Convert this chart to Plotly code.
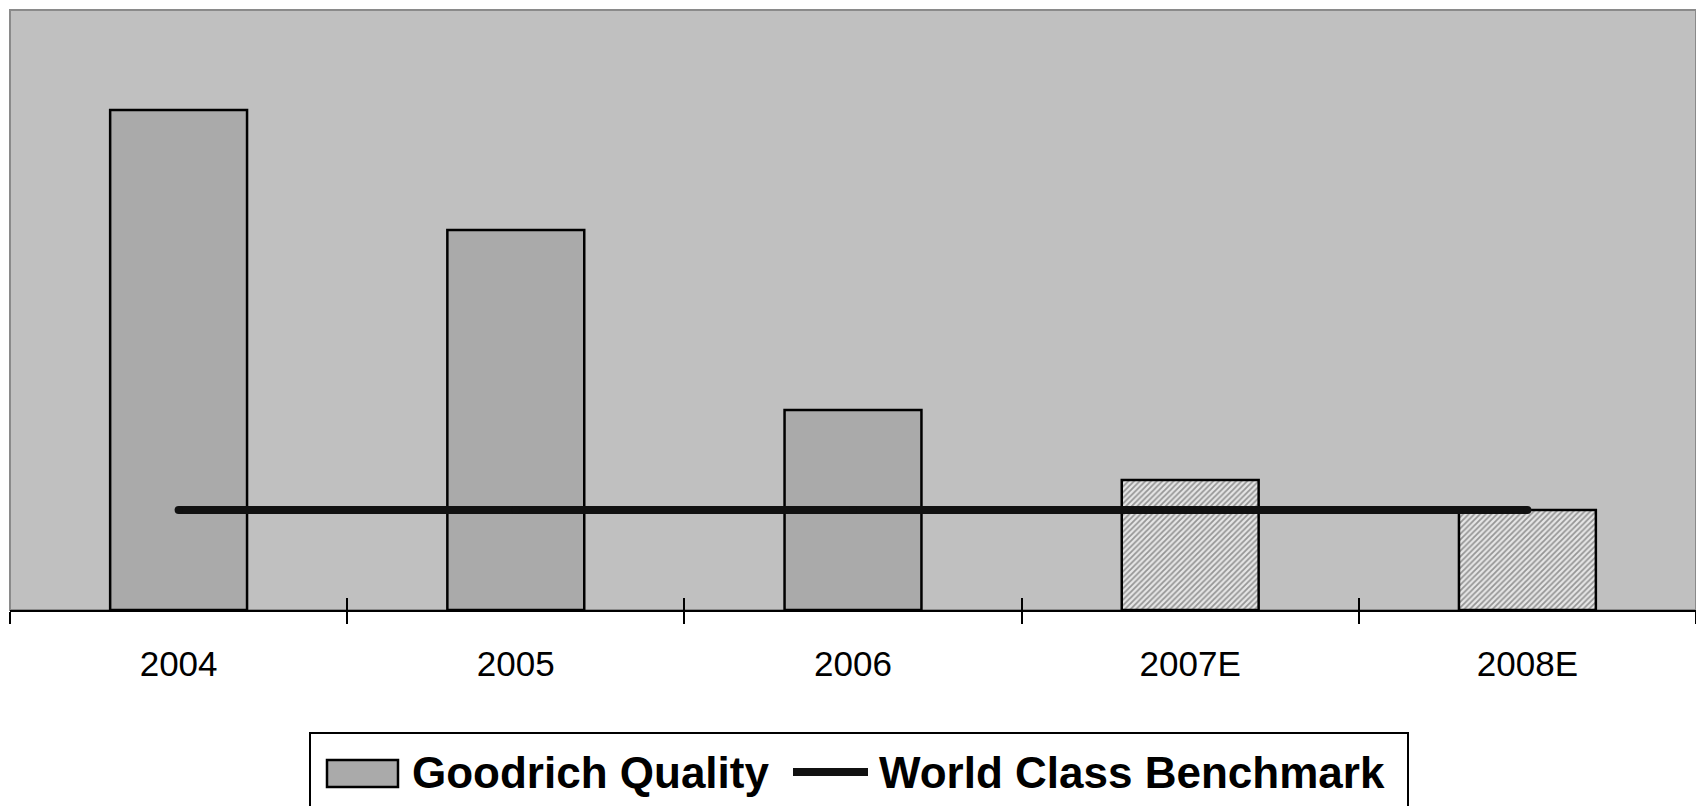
import plotly.graph_objects as go

# Quality metric by year (estimates for 2007/2008)
years = ["2004", "2005", "2006", "2007E", "2008E"]
goodrich_quality = [10.0, 7.6, 4.0, 2.6, 2.0]
world_class_benchmark = [2.0, 2.0, 2.0, 2.0, 2.0]
bar_patterns = ["", "", "", "/", "/"]
bar_colors = ["#aaaaaa", "#aaaaaa", "#aaaaaa", "#e6e6e6", "#e6e6e6"]

FONT = "Liberation Sans, Arial, sans-serif"

fig = go.Figure()

fig.add_trace(go.Bar(
    x=years,
    y=goodrich_quality,
    name="Goodrich Quality",
    width=0.406,
    marker=dict(
        color=bar_colors,
        line=dict(color="#000000", width=2.5),
        pattern=dict(shape=bar_patterns, fgcolor="#a4a4a4", bgcolor="#e6e6e6",
                     size=4, solidity=0.45),
    ),
    showlegend=False,
))

# benchmark line; end markers give it rounded caps
fig.add_trace(go.Scatter(
    x=years,
    y=world_class_benchmark,
    name="World Class Benchmark",
    mode="lines+markers",
    line=dict(color="#111111", width=8),
    marker=dict(color="#111111", size=8, line=dict(width=0)),
    showlegend=False,
))

# helpers for the hand-built legend (paper coordinates)
L, T, W, H = 10, 10, 1686, 600


def px(x):
    return (x - L) / W


def py(y):
    return (T + H - y) / H


shapes = [
    # plot frame (top / left)
    dict(type="rect", xref="paper", yref="paper", x0=0, x1=1, y0=0, y1=1,
         line=dict(color="#8a8a8a", width=2), layer="below"),
    # legend box
    dict(type="rect", xref="paper", yref="paper", x0=px(310), x1=px(1408),
         y0=py(733), y1=py(830), line=dict(color="#000000", width=2),
         fillcolor="#ffffff"),
    # legend swatch for bars
    dict(type="rect", xref="paper", yref="paper", x0=px(327), x1=px(398),
         y0=py(760), y1=py(787), line=dict(color="#000000", width=2.5),
         fillcolor="#aaaaaa"),
    # legend sample for the benchmark line
    dict(type="line", xref="paper", yref="paper", x0=px(793), x1=px(868),
         y0=py(772), y1=py(772), line=dict(color="#111111", width=8)),
]

annotations = [
    dict(text="<b>Goodrich Quality</b>", xref="paper", yref="paper",
         x=px(410), y=py(772), xanchor="left", yanchor="middle", showarrow=False,
         font=dict(family=FONT, size=44, color="#000000")),
    dict(text="<b>World Class Benchmark</b>", xref="paper", yref="paper",
         x=px(877), y=py(772), xanchor="left", yanchor="middle", showarrow=False,
         font=dict(family=FONT, size=44, color="#000000")),
]

fig.update_layout(
    width=1696,
    height=806,
    margin=dict(l=L, r=0, t=T, b=806 - T - H, pad=0),
    paper_bgcolor="#ffffff",
    plot_bgcolor="#c0c0c0",
    font=dict(family=FONT, color="#000000"),
    showlegend=False,
    shapes=shapes,
    annotations=annotations,
    xaxis=dict(
        type="category",
        categoryarray=years,
        range=[-0.5, 4.5],
        tickson="boundaries",
        ticks="outside",
        ticklen=12,
        tickwidth=2,
        tickcolor="#000000",
        showline=True,
        linecolor="#000000",
        linewidth=2,
        showgrid=False,
        zeroline=False,
        tickfont=dict(family=FONT, size=35, color="#000000"),
        ticklabelstandoff=22,
    ),
    xaxis2=dict(
        overlaying="x",
        anchor="y",
        side="bottom",
        range=[-0.5, 4.5],
        tickvals=[-0.5, 0.5, 1.5, 2.5, 3.5],
        ticks="inside",
        ticklen=12,
        tickwidth=2,
        tickcolor="#000000",
        showticklabels=False,
        showgrid=False,
        zeroline=False,
        showline=False,
    ),
    yaxis=dict(
        range=[0, 12],
        showticklabels=False,
        ticks="",
        showgrid=False,
        zeroline=False,
        showline=False,
    ),
    bargap=0.5,
)

# invisible trace so the overlaid axis is drawn
fig.add_trace(go.Scatter(x=[0], y=[0], xaxis="x2", yaxis="y", mode="markers",
                         marker=dict(opacity=0), hoverinfo="skip", showlegend=False))

fig.write_html("out.html")
